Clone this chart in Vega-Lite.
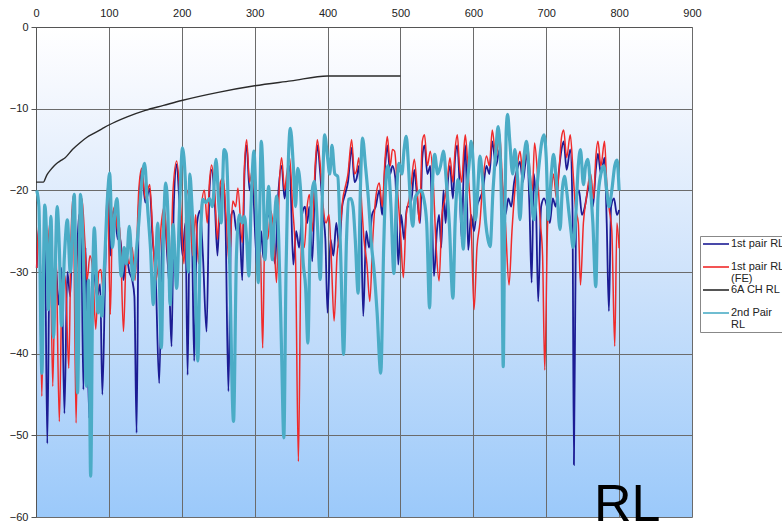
{
  "$schema": "https://vega.github.io/schema/vega-lite/v6.json",
  "width": 656,
  "height": 490,
  "autosize": {"type": "none"},
  "padding": {"left": 36, "top": 27, "right": 90, "bottom": 7},
  "background": "white",
  "config": {
    "view": {
      "stroke": null,
      "fill": {
        "gradient": "linear",
        "x1": 0, "y1": 0, "x2": 0, "y2": 1,
        "stops": [
          {"offset": 0, "color": "#ffffff"},
          {"offset": 0.12, "color": "#f5f8fe"},
          {"offset": 0.5, "color": "#cfe3fb"},
          {"offset": 1, "color": "#9bc9fa"}
        ]
      }
    },
    "font": "Liberation Sans",
    "axis": {
      "labelFont": "Liberation Sans",
      "labelFontSize": 11,
      "labelColor": "#222222",
      "gridColor": "#6b6b6b",
      "gridWidth": 1,
      "gridOpacity": 1,
      "domainColor": "#555555",
      "tickColor": "#555555",
      "title": null
    }
  },
  "datasets": {
    "lim": [
      {"f":0,"v":-19},{"f":10,"v":-19},{"f":15,"v":-18.1},{"f":20,"v":-17.5},{"f":25,"v":-17},{"f":30,"v":-16.6},{"f":35,"v":-16.3},{"f":40,"v":-16},{"f":50,"v":-15},{"f":60,"v":-14.2},{"f":70,"v":-13.5},{"f":80,"v":-13},{"f":90,"v":-12.5},{"f":100,"v":-12},{"f":125,"v":-11},{"f":150,"v":-10.2},{"f":175,"v":-9.6},{"f":200,"v":-9},{"f":250,"v":-8},{"f":300,"v":-7.2},{"f":350,"v":-6.6},{"f":400,"v":-6},{"f":500,"v":-6}
    ],
    "p1": [
      {"f":1,"v":-29.5},{"f":4,"v":-24.5},{"f":8,"v":-36},{"f":12,"v":-25},{"f":15.5,"v":-51},{"f":19,"v":-26},{"f":23,"v":-31},{"f":27,"v":-29},{"f":31,"v":-34},{"f":35,"v":-29.5},{"f":39,"v":-47.3},{"f":43,"v":-30},{"f":47,"v":-33},{"f":51,"v":-21},{"f":55,"v":-30},{"f":59,"v":-23},{"f":62,"v":-25},{"f":65,"v":-44.4},{"f":68,"v":-27},{"f":73,"v":-47.9},{"f":77,"v":-30},{"f":80,"v":-30.5},{"f":84,"v":-33},{"f":88,"v":-31.5},{"f":91,"v":-45},{"f":95,"v":-30},{"f":98,"v":-20.5},{"f":102,"v":-28},{"f":105,"v":-23},{"f":108,"v":-22.5},{"f":112,"v":-26},{"f":116,"v":-26},{"f":120,"v":-31},{"f":124,"v":-28},{"f":128,"v":-30},{"f":132,"v":-31},{"f":135,"v":-33},{"f":138,"v":-49.7},{"f":141,"v":-22},{"f":145,"v":-17.6},{"f":150,"v":-21.5},{"f":156,"v":-19.8},{"f":160,"v":-26},{"f":164,"v":-30},{"f":169,"v":-43.6},{"f":173,"v":-27},{"f":176,"v":-22.5},{"f":180,"v":-28},{"f":183,"v":-32},{"f":186,"v":-39.1},{"f":189,"v":-22},{"f":193,"v":-16.8},{"f":197,"v":-22},{"f":201,"v":-28},{"f":205,"v":-24},{"f":208,"v":-42.6},{"f":211,"v":-23},{"f":214,"v":-26},{"f":217,"v":-40.9},{"f":221,"v":-24},{"f":225,"v":-22.5},{"f":229,"v":-28},{"f":234,"v":-37.3},{"f":238,"v":-20},{"f":241,"v":-17.5},{"f":245,"v":-21},{"f":249,"v":-28},{"f":253,"v":-20},{"f":257,"v":-19},{"f":260,"v":-24},{"f":264,"v":-44.6},{"f":268,"v":-23},{"f":271,"v":-22.5},{"f":275,"v":-25},{"f":279,"v":-24},{"f":283,"v":-31},{"f":286,"v":-18},{"f":289,"v":-14.5},{"f":293,"v":-20},{"f":297,"v":-19},{"f":301,"v":-26},{"f":305,"v":-31},{"f":309,"v":-25},{"f":312,"v":-28.3},{"f":316,"v":-24},{"f":320,"v":-23},{"f":324,"v":-26},{"f":328,"v":-29},{"f":332,"v":-21},{"f":337,"v":-17},{"f":341,"v":-21},{"f":344,"v":-19},{"f":348,"v":-17},{"f":353,"v":-29.1},{"f":357,"v":-25},{"f":361,"v":-27},{"f":365,"v":-23},{"f":369,"v":-22},{"f":372,"v":-24},{"f":375,"v":-22},{"f":379,"v":-28.7},{"f":383,"v":-18},{"f":386,"v":-14.5},{"f":390,"v":-18},{"f":394,"v":-23},{"f":397,"v":-26},{"f":400,"v":-35},{"f":404,"v":-26},{"f":408,"v":-28},{"f":412,"v":-24},{"f":416,"v":-27},{"f":420,"v":-22},{"f":424,"v":-20.5},{"f":428,"v":-19},{"f":433,"v":-14.8},{"f":437,"v":-19},{"f":440,"v":-18.5},{"f":443,"v":-17},{"f":446,"v":-24},{"f":449,"v":-35.4},{"f":453,"v":-25},{"f":457,"v":-27},{"f":461,"v":-23},{"f":466,"v":-22},{"f":471,"v":-20},{"f":475,"v":-23},{"f":479,"v":-17},{"f":482,"v":-14.5},{"f":486,"v":-18},{"f":489,"v":-17},{"f":493,"v":-18.5},{"f":497,"v":-29.1},{"f":501,"v":-23},{"f":505,"v":-26},{"f":509,"v":-22},{"f":513,"v":-22},{"f":516,"v":-20.5},{"f":519,"v":-17.5},{"f":523,"v":-21},{"f":527,"v":-24},{"f":530,"v":-16},{"f":533,"v":-14.5},{"f":537,"v":-18},{"f":541,"v":-17},{"f":543,"v":-22},{"f":546,"v":-30.5},{"f":550,"v":-25},{"f":553,"v":-23},{"f":556,"v":-27},{"f":559,"v":-20},{"f":562,"v":-24},{"f":565,"v":-19},{"f":568,"v":-17},{"f":572,"v":-21},{"f":575,"v":-16},{"f":578,"v":-14.5},{"f":581,"v":-19},{"f":584,"v":-26},{"f":587,"v":-17},{"f":589,"v":-14.5},{"f":591,"v":-20},{"f":593,"v":-27.3},{"f":597,"v":-23},{"f":601,"v":-25},{"f":605,"v":-22},{"f":609,"v":-21},{"f":613,"v":-20},{"f":618,"v":-17},{"f":622,"v":-18},{"f":626,"v":-14},{"f":631,"v":-17},{"f":636,"v":-15},{"f":640,"v":-20},{"f":644,"v":-23},{"f":648,"v":-21},{"f":652,"v":-22},{"f":656,"v":-19},{"f":660,"v":-17.5},{"f":664,"v":-16.5},{"f":668,"v":-19},{"f":671,"v":-17},{"f":674,"v":-15.5},{"f":677,"v":-22},{"f":680,"v":-31.3},{"f":683,"v":-18},{"f":686,"v":-22},{"f":689,"v":-33.6},{"f":693,"v":-22},{"f":697,"v":-21},{"f":701,"v":-22},{"f":705,"v":-24},{"f":709,"v":-21},{"f":713,"v":-22},{"f":717,"v":-18},{"f":721,"v":-15},{"f":724,"v":-14},{"f":728,"v":-17.5},{"f":733,"v":-15},{"f":736,"v":-22},{"f":738,"v":-53.6},{"f":741,"v":-22},{"f":745,"v":-20},{"f":749,"v":-23},{"f":753,"v":-22},{"f":757,"v":-20},{"f":760,"v":-19},{"f":764,"v":-22},{"f":768,"v":-17.5},{"f":771,"v":-15.5},{"f":775,"v":-18},{"f":780,"v":-16},{"f":783,"v":-24},{"f":786,"v":-34.8},{"f":789,"v":-22},{"f":793,"v":-21},{"f":797,"v":-23},{"f":800,"v":-22.4}
    ],
    "fe": [
      {"f":1,"v":-29.5},{"f":4,"v":-24},{"f":8,"v":-45.2},{"f":12,"v":-23},{"f":16,"v":-27},{"f":19,"v":-24},{"f":23,"v":-44},{"f":27,"v":-26},{"f":32,"v":-48.3},{"f":36,"v":-31},{"f":40,"v":-30.5},{"f":45,"v":-41.8},{"f":48,"v":-26},{"f":51,"v":-20.7},{"f":55,"v":-48.5},{"f":59,"v":-24},{"f":63,"v":-21},{"f":67,"v":-26.2},{"f":70,"v":-31},{"f":74,"v":-28},{"f":78,"v":-30},{"f":82,"v":-37},{"f":86,"v":-30},{"f":89,"v":-29.7},{"f":93,"v":-33},{"f":98,"v":-19.7},{"f":102,"v":-35.2},{"f":105,"v":-23},{"f":108,"v":-22},{"f":112,"v":-25},{"f":115,"v":-24.5},{"f":120,"v":-37.3},{"f":124,"v":-28},{"f":128,"v":-29},{"f":132,"v":-27},{"f":136,"v":-31},{"f":141,"v":-20},{"f":145,"v":-17.3},{"f":150,"v":-21},{"f":156,"v":-19.3},{"f":160,"v":-25},{"f":164,"v":-31},{"f":168,"v":-29},{"f":172,"v":-24},{"f":176,"v":-22},{"f":180,"v":-27},{"f":184,"v":-31},{"f":188,"v":-20},{"f":193,"v":-16.4},{"f":198,"v":-21},{"f":203,"v":-29},{"f":207,"v":-20},{"f":211,"v":-22},{"f":215,"v":-28},{"f":219,"v":-23},{"f":223,"v":-29},{"f":227,"v":-22},{"f":231,"v":-20},{"f":235,"v":-24},{"f":238,"v":-19},{"f":241,"v":-16.9},{"f":245,"v":-20},{"f":249,"v":-26},{"f":253,"v":-19},{"f":257,"v":-18.5},{"f":261,"v":-23.6},{"f":265,"v":-29},{"f":270,"v":-21.3},{"f":274,"v":-22},{"f":277,"v":-19.7},{"f":283,"v":-26.4},{"f":286,"v":-17},{"f":289,"v":-13.8},{"f":293,"v":-19},{"f":297,"v":-17.5},{"f":301,"v":-22},{"f":305,"v":-27},{"f":308,"v":-28},{"f":311,"v":-39.3},{"f":314,"v":-25},{"f":318,"v":-26},{"f":322,"v":-22.5},{"f":326,"v":-25},{"f":330,"v":-31.3},{"f":334,"v":-19},{"f":337,"v":-16},{"f":341,"v":-20},{"f":344,"v":-18},{"f":348,"v":-16},{"f":352,"v":-22},{"f":356,"v":-28},{"f":360,"v":-53.2},{"f":364,"v":-26},{"f":368,"v":-27},{"f":372,"v":-22},{"f":375,"v":-20.5},{"f":379,"v":-25},{"f":383,"v":-17},{"f":386,"v":-13.8},{"f":390,"v":-17},{"f":394,"v":-22},{"f":398,"v":-24},{"f":402,"v":-23},{"f":405,"v":-28},{"f":409,"v":-36},{"f":413,"v":-28},{"f":417,"v":-25},{"f":421,"v":-21},{"f":424,"v":-19.7},{"f":428,"v":-18},{"f":433,"v":-13.8},{"f":437,"v":-18},{"f":440,"v":-17.5},{"f":443,"v":-16},{"f":447,"v":-22},{"f":450,"v":-26},{"f":454,"v":-29},{"f":458,"v":-33.6},{"f":462,"v":-26},{"f":466,"v":-21},{"f":471,"v":-19.1},{"f":475,"v":-22},{"f":479,"v":-16},{"f":482,"v":-13.4},{"f":486,"v":-17},{"f":489,"v":-15},{"f":492,"v":-15.2},{"f":496,"v":-20},{"f":500,"v":-25},{"f":504,"v":-30.7},{"f":508,"v":-23},{"f":512,"v":-21},{"f":515,"v":-19},{"f":519,"v":-16.2},{"f":523,"v":-20},{"f":526,"v":-24},{"f":530,"v":-14},{"f":533,"v":-13.2},{"f":537,"v":-17},{"f":541,"v":-15.2},{"f":545,"v":-19},{"f":549,"v":-27},{"f":553,"v":-31.1},{"f":557,"v":-23},{"f":561,"v":-21},{"f":565,"v":-18},{"f":568,"v":-16},{"f":572,"v":-19},{"f":575,"v":-15},{"f":578,"v":-13.2},{"f":581,"v":-17},{"f":584,"v":-19},{"f":587,"v":-15},{"f":589,"v":-13.2},{"f":593,"v":-18},{"f":597,"v":-24},{"f":601,"v":-34.6},{"f":605,"v":-27},{"f":609,"v":-24},{"f":613,"v":-19},{"f":618,"v":-15.8},{"f":622,"v":-17},{"f":626,"v":-12.6},{"f":631,"v":-16},{"f":636,"v":-13},{"f":640,"v":-19},{"f":644,"v":-24},{"f":649,"v":-31.6},{"f":653,"v":-25},{"f":657,"v":-20},{"f":661,"v":-16.5},{"f":664,"v":-15.2},{"f":668,"v":-18},{"f":671,"v":-16},{"f":674,"v":-14.2},{"f":678,"v":-18},{"f":681,"v":-20},{"f":684,"v":-14.2},{"f":688,"v":-18},{"f":692,"v":-24},{"f":695,"v":-28},{"f":698,"v":-42},{"f":702,"v":-24},{"f":706,"v":-21},{"f":710,"v":-18},{"f":714,"v":-21},{"f":718,"v":-17},{"f":721,"v":-13.5},{"f":724,"v":-12.6},{"f":728,"v":-16},{"f":733,"v":-13.2},{"f":737,"v":-18},{"f":740,"v":-22},{"f":744,"v":-24},{"f":747,"v":-31.6},{"f":751,"v":-24},{"f":755,"v":-21},{"f":758,"v":-19},{"f":761,"v":-18},{"f":765,"v":-21},{"f":768,"v":-16},{"f":771,"v":-14},{"f":775,"v":-17},{"f":780,"v":-14},{"f":783,"v":-19},{"f":786,"v":-22},{"f":790,"v":-25},{"f":794,"v":-39.1},{"f":797,"v":-24},{"f":800,"v":-27.1}
    ],
    "p2": [
      {"f":1,"v":-20},{"f":4,"v":-22},{"f":8,"v":-42.4},{"f":12,"v":-21.8},{"f":15,"v":-27},{"f":17,"v":-34.6},{"f":20.5,"v":-23.2},{"f":24,"v":-38},{"f":29,"v":-22},{"f":32,"v":-27},{"f":35,"v":-36.6},{"f":39,"v":-28},{"f":43,"v":-23.6},{"f":47,"v":-30},{"f":52.5,"v":-20.5},{"f":57,"v":-44.8},{"f":61,"v":-20.5},{"f":65,"v":-28},{"f":69,"v":-44},{"f":72,"v":-31},{"f":75,"v":-55},{"f":78,"v":-30},{"f":80,"v":-24.6},{"f":85,"v":-35},{"f":88,"v":-33},{"f":90,"v":-35.4},{"f":94,"v":-29},{"f":98,"v":-21},{"f":101,"v":-17.9},{"f":105,"v":-27},{"f":108,"v":-23},{"f":111,"v":-21},{"f":117,"v":-30.5},{"f":121,"v":-27},{"f":124,"v":-29},{"f":128,"v":-24.4},{"f":133,"v":-31},{"f":137,"v":-28},{"f":141,"v":-24},{"f":145,"v":-19},{"f":149,"v":-16.7},{"f":153,"v":-22},{"f":157,"v":-27},{"f":161,"v":-34},{"f":164,"v":-29},{"f":167,"v":-24},{"f":172,"v":-39.3},{"f":175,"v":-25},{"f":178,"v":-19.1},{"f":181,"v":-23},{"f":184,"v":-34},{"f":188,"v":-24.2},{"f":193,"v":-32},{"f":197,"v":-22},{"f":201,"v":-14.8},{"f":205,"v":-19},{"f":209,"v":-30},{"f":211,"v":-18},{"f":214,"v":-22},{"f":218,"v":-30},{"f":222,"v":-40.9},{"f":225,"v":-28},{"f":229,"v":-21.1},{"f":233,"v":-21.5},{"f":238,"v":-21},{"f":242,"v":-22},{"f":247,"v":-16.2},{"f":251,"v":-22},{"f":254,"v":-24},{"f":258,"v":-15},{"f":261,"v":-15.5},{"f":265,"v":-26},{"f":271,"v":-48.3},{"f":275,"v":-28},{"f":279,"v":-23},{"f":283,"v":-24},{"f":286,"v":-23.2},{"f":289,"v":-26},{"f":292,"v":-30.5},{"f":295,"v":-22},{"f":299,"v":-15.2},{"f":302,"v":-22},{"f":305,"v":-31.3},{"f":307,"v":-22},{"f":309,"v":-14},{"f":312,"v":-20},{"f":314,"v":-28.5},{"f":317,"v":-23},{"f":319,"v":-19.5},{"f":322,"v":-24},{"f":324,"v":-28.5},{"f":327,"v":-24},{"f":330,"v":-20.7},{"f":333,"v":-26},{"f":337,"v":-40},{"f":340,"v":-50.3},{"f":343,"v":-30},{"f":346,"v":-17},{"f":349,"v":-12.4},{"f":353,"v":-17},{"f":356,"v":-22},{"f":359,"v":-17.3},{"f":363,"v":-20},{"f":366,"v":-28},{"f":370,"v":-32},{"f":373,"v":-38.7},{"f":376,"v":-26},{"f":379,"v":-20},{"f":382,"v":-18.9},{"f":386,"v":-24},{"f":390,"v":-30.9},{"f":393,"v":-20},{"f":396,"v":-13.2},{"f":400,"v":-16},{"f":403,"v":-18},{"f":406,"v":-14.5},{"f":410,"v":-18},{"f":414,"v":-18.3},{"f":418,"v":-28},{"f":422,"v":-40.1},{"f":426,"v":-26},{"f":429,"v":-21.1},{"f":432,"v":-21},{"f":435,"v":-22},{"f":438,"v":-26},{"f":442,"v":-32.6},{"f":445,"v":-20},{"f":448,"v":-13.6},{"f":452,"v":-17},{"f":456,"v":-21},{"f":460,"v":-26.4},{"f":464,"v":-30},{"f":468,"v":-35},{"f":473,"v":-42.4},{"f":477,"v":-27},{"f":480,"v":-19},{"f":483,"v":-17},{"f":487,"v":-22},{"f":491,"v":-30.2},{"f":494,"v":-22},{"f":498,"v":-16.7},{"f":502,"v":-18},{"f":505,"v":-15},{"f":508,"v":-13.4},{"f":511,"v":-17},{"f":514,"v":-22},{"f":517,"v":-24.4},{"f":520,"v":-21},{"f":524,"v":-20.3},{"f":528,"v":-20},{"f":532,"v":-21},{"f":536,"v":-24},{"f":540,"v":-34.4},{"f":543,"v":-22},{"f":547,"v":-15.6},{"f":551,"v":-18},{"f":555,"v":-17},{"f":559,"v":-15.2},{"f":563,"v":-19},{"f":567,"v":-24},{"f":572,"v":-33.2},{"f":575,"v":-24},{"f":579,"v":-18.7},{"f":583,"v":-22},{"f":586,"v":-27.2},{"f":590,"v":-21},{"f":594,"v":-17},{"f":597,"v":-14},{"f":600,"v":-17},{"f":603,"v":-23.6},{"f":606,"v":-20},{"f":609,"v":-15.8},{"f":613,"v":-19},{"f":617,"v":-24},{"f":620,"v":-26},{"f":623,"v":-26.9},{"f":627,"v":-20},{"f":631,"v":-15},{"f":634,"v":-12.2},{"f":637,"v":-16},{"f":639,"v":-24},{"f":641,"v":-41.6},{"f":643,"v":-24},{"f":645,"v":-13},{"f":647,"v":-10.7},{"f":650,"v":-14},{"f":654,"v":-18},{"f":657,"v":-15},{"f":661,"v":-19},{"f":664,"v":-23.6},{"f":667,"v":-19},{"f":670,"v":-15.5},{"f":673,"v":-14},{"f":676,"v":-17},{"f":679,"v":-20.3},{"f":683,"v":-23.6},{"f":687,"v":-20},{"f":690,"v":-17},{"f":694,"v":-14},{"f":697,"v":-13.2},{"f":700,"v":-16},{"f":703,"v":-23.6},{"f":707,"v":-18},{"f":710,"v":-15.6},{"f":714,"v":-19},{"f":719,"v":-24.8},{"f":722,"v":-20},{"f":725,"v":-18.3},{"f":728,"v":-20},{"f":731,"v":-22.6},{"f":734,"v":-25},{"f":737,"v":-27},{"f":740,"v":-24},{"f":744,"v":-17},{"f":747,"v":-15},{"f":751,"v":-19.3},{"f":754,"v":-17},{"f":757,"v":-16.2},{"f":761,"v":-20},{"f":764,"v":-24},{"f":768,"v":-31.8},{"f":771,"v":-21},{"f":775,"v":-18},{"f":779,"v":-17},{"f":783,"v":-20},{"f":786,"v":-22},{"f":790,"v":-20},{"f":794,"v":-17},{"f":797,"v":-16.3},{"f":800,"v":-20}
    ],
    "caption": [{"label": "RL"}]
  },
  "layer": [
    {
      "data": {"name": "p1"},
      "mark": {"type": "line", "interpolate": "monotone", "strokeWidth": 1.8},
      "encoding": {
        "x": {
          "field": "f",
          "type": "quantitative",
          "scale": {"domain": [0, 900], "nice": false, "zero": false},
          "axis": {
            "orient": "top",
            "values": [0, 100, 200, 300, 400, 500, 600, 700, 800, 900],
            "ticks": false,
            "labelPadding": 9,
            "labelFlush": false,
            "domain": true,
            "grid": true
          }
        },
        "y": {
          "field": "v",
          "type": "quantitative",
          "scale": {"domain": [-60, 0], "nice": false, "zero": false},
          "axis": {
            "values": [0, -10, -20, -30, -40, -50, -60],
            "tickSize": 5,
            "labelPadding": 3,
            "labelFlush": false,
            "domain": true,
            "grid": true
          }
        },
        "color": {
          "datum": "1st pair RL",
          "type": "nominal",
          "scale": {
            "domain": ["1st pair RL", "1st pair RL (FE)", "6A CH RL", "2nd Pair RL"],
            "range": ["#1c1c94", "#f02a2a", "#2a2a2a", "#4bacc6"]
          },
          "legend": {
            "title": null,
            "orient": "none",
            "legendX": 664,
            "legendY": 209,
            "symbolType": "stroke",
            "symbolSize": 676,
            "symbolStrokeWidth": 1.6,
            "labelFont": "Liberation Sans",
            "labelFontSize": 11,
            "labelColor": "#222222",
            "labelOffset": 1,
            "labelBaseline": "top",
            "labelLimit": 200,
            "gridAlign": "all",
            "rowPadding": 0,
            "padding": 2,
            "strokeColor": "#888888",
            "fillColor": "#ffffff",
            "labelExpr": "datum.label == '1st pair RL (FE)' ? ['1st pair RL', '(FE)'] : datum.label == '2nd Pair RL' ? ['2nd Pair', 'RL'] : datum.label",
            "encode": {
              "symbols": {
                "update": {
                  "y": {"value": 6},
                  "stroke": {"signal": "datum.value == '1st pair RL' ? '#4646ae' : datum.value == '1st pair RL (FE)' ? '#f03a3a' : datum.value == '6A CH RL' ? '#2a2a2a' : '#6656a6'"}
                }
              },
              "labels": {"update": {"y": {"value": 0}, "lineHeight": {"value": 12}}}
            }
          }
        }
      }
    },
    {
      "data": {"name": "fe"},
      "mark": {"type": "line", "interpolate": "monotone", "strokeWidth": 1.5},
      "encoding": {
        "x": {"field": "f", "type": "quantitative"},
        "y": {"field": "v", "type": "quantitative"},
        "color": {"datum": "1st pair RL (FE)", "type": "nominal"}
      }
    },
    {
      "data": {"name": "p2"},
      "mark": {"type": "line", "interpolate": "monotone", "strokeWidth": 3.2},
      "encoding": {
        "x": {"field": "f", "type": "quantitative"},
        "y": {"field": "v", "type": "quantitative"},
        "color": {"datum": "2nd Pair RL", "type": "nominal"}
      }
    },
    {
      "data": {"name": "lim"},
      "mark": {"type": "line", "interpolate": "monotone", "strokeWidth": 1.4},
      "encoding": {
        "x": {"field": "f", "type": "quantitative"},
        "y": {"field": "v", "type": "quantitative"},
        "color": {"datum": "6A CH RL", "type": "nominal"}
      }
    },
    {
      "data": {"name": "caption"},
      "mark": {"type": "text", "font": "Liberation Sans", "fontSize": 52, "align": "center", "baseline": "alphabetic", "color": "#000000"},
      "encoding": {
        "text": {"field": "label", "type": "nominal"},
        "x": {"datum": 811, "type": "quantitative"},
        "y": {"datum": -60.5, "type": "quantitative"}
      }
    }
  ]
}
